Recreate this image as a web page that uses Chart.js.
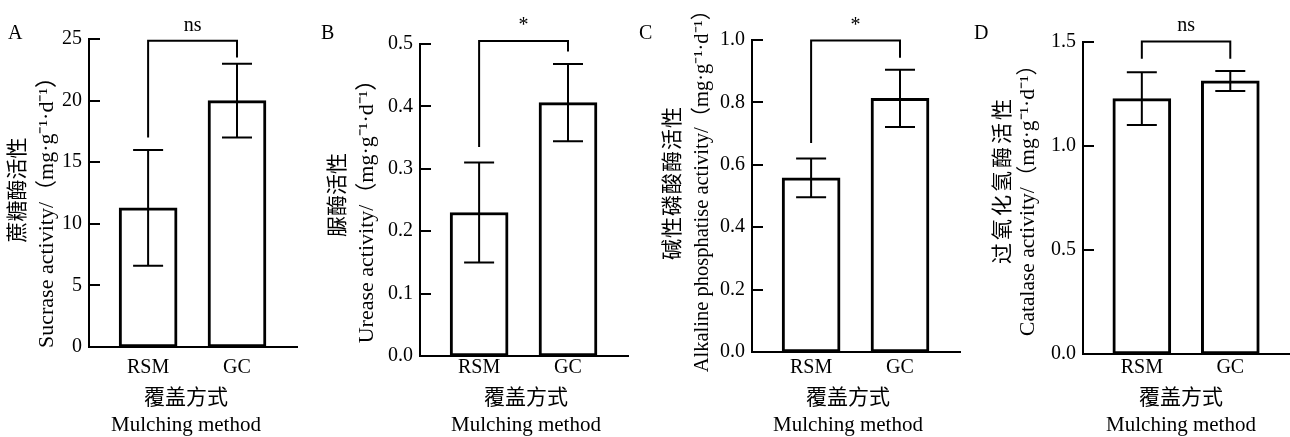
<!DOCTYPE html>
<html><head><meta charset="utf-8">
<script src="https://cdn.jsdelivr.net/npm/chart.js@4.4.1/dist/chart.umd.min.js"></script>
<style>
html,body{margin:0;padding:0;background:#fff;overflow:hidden;width:1290px;height:437px;}
canvas{position:absolute;left:0;top:0;}
</style></head><body>
<canvas id="c0" width="1290" height="437"></canvas>
<canvas id="c1" width="1290" height="437"></canvas>
<canvas id="c2" width="1290" height="437"></canvas>
<canvas id="c3" width="1290" height="437"></canvas>
<script>
// ---- data ----
const categories = ["RSM", "GC"];
const sucraseMean = [11.3, 20.0];
const sucraseErr = [4.7, 3.0];
const ureaseMean = [0.23, 0.406];
const ureaseErr = [0.08, 0.062];
const phosphataseMean = [0.558, 0.813];
const phosphataseErr = [0.062, 0.092];
const catalaseMean = [1.228, 1.313];
const catalaseErr = [0.127, 0.048];
const yTicksA = ["0", "5", "10", "15", "20", "25"];
const yTicksB = ["0.0", "0.1", "0.2", "0.3", "0.4", "0.5"];
const yTicksC = ["0.0", "0.2", "0.4", "0.6", "0.8", "1.0"];
const yTicksD = ["0.0", "0.5", "1.0", "1.5"];
const yMax = [25, 0.5, 1.0, 1.5];
const yStep = [5, 0.1, 0.2, 0.5];
const sigLabels = ["ns", "*", "*", "ns"];
const bracketTop = [24.85, 0.505, 0.998, 1.503];
const bracketLegEnd = [[17.0, 23.5], [0.335, 0.488], [0.670, 0.943], [1.42, 1.42]];
const panelLetters = ["A", "B", "C", "D"];
const yTitleCN = ["蔗糖酶活性", "脲酶活性", "碱性磷酸酶活性", "过氧化氢酶活性"];
const yTitleEN = [
  "Sucrase activity/（mg·g⁻¹·d⁻¹）",
  "Urease activity/（mg·g⁻¹·d⁻¹）",
  "Alkaline phosphatise activity/（mg·g⁻¹·d⁻¹）",
  "Catalase activity/（mg·g⁻¹·d⁻¹）"
];
const xTitleCN = "覆盖方式";
const xTitleEN = "Mulching method";

// ---- layout (pixel positions, not data) ----
const W = 1290, H = 437;
const FONT = "'Liberation Serif','Times New Roman','Noto Sans CJK SC',serif";
const L = [
  {axisX: 89,   top: 39, bottom: 347, letterX: 8,   t1x: 18,   t1y: 190, t2x: 47,   t2y: 207, t2s: 22,   xtx: 186,  ls: 0},
  {axisX: 420,  top: 44, bottom: 356, letterX: 321, t1x: 338,  t1y: 195, t2x: 367,  t2y: 206, t2s: 22,   xtx: 526,  ls: 0},
  {axisX: 752,  top: 40, bottom: 352, letterX: 639, t1x: 673,  t1y: 183, t2x: 703,  t2y: 186, t2s: 20.5, xtx: 848,  ls: 1},
  {axisX: 1083, top: 42, bottom: 354, letterX: 974, t1x: 1003, t1y: 180, t2x: 1028, t2y: 195, t2s: 21.5, xtx: 1181, ls: 3}
];

Chart.defaults.font.family = FONT;
Chart.defaults.color = '#000';

function makePanel(i, means, errs, tickLabels) {
  const lay = L[i];
  const right = Math.min(W, lay.axisX + 208);
  const annot = {
    id: 'annot' + i,
    afterDraw(chart) {
      const ctx = chart.ctx;
      const xs = chart.scales.x, ys = chart.scales.y;
      ctx.save();
      ctx.strokeStyle = '#000';
      ctx.fillStyle = '#000';
      ctx.lineWidth = 2;
      ctx.lineCap = 'butt';
      // inward y ticks
      ys.ticks.forEach(t => {
        const py = Math.round(ys.getPixelForValue(t.value));
        ctx.beginPath();
        ctx.moveTo(lay.axisX, py);
        ctx.lineTo(lay.axisX + 11, py);
        ctx.stroke();
      });
      // error bars
      means.forEach((m, k) => {
        const cx = xs.getPixelForValue(k + 1);
        const yt = ys.getPixelForValue(m + errs[k]);
        const yb = ys.getPixelForValue(m - errs[k]);
        ctx.beginPath();
        ctx.moveTo(cx, yt); ctx.lineTo(cx, yb);
        ctx.moveTo(cx - 15, yt); ctx.lineTo(cx + 15, yt);
        ctx.moveTo(cx - 15, yb); ctx.lineTo(cx + 15, yb);
        ctx.stroke();
      });
      // significance bracket
      const lx = xs.getPixelForValue(1), rx = xs.getPixelForValue(2);
      const ty = ys.getPixelForValue(bracketTop[i]);
      ctx.beginPath();
      ctx.moveTo(lx, ys.getPixelForValue(bracketLegEnd[i][0]));
      ctx.lineTo(lx, ty);
      ctx.lineTo(rx, ty);
      ctx.lineTo(rx, ys.getPixelForValue(bracketLegEnd[i][1]));
      ctx.stroke();
      ctx.font = "20px " + FONT;
      ctx.textAlign = 'center';
      ctx.textBaseline = 'alphabetic';
      ctx.fillText(sigLabels[i], (lx + rx) / 2, ty - 10);
      // panel letter
      ctx.font = "20px " + FONT;
      ctx.textAlign = 'left';
      ctx.fillText(panelLetters[i], lay.letterX, 39);
      // x title
      ctx.textAlign = 'center';
      ctx.textBaseline = 'middle';
      ctx.font = "21px " + FONT;
      ctx.fillText(xTitleCN, lay.xtx, 398);
      ctx.fillText(xTitleEN, lay.xtx, 425);
      // y title (rotated)
      ctx.save();
      ctx.translate(lay.t1x, lay.t1y);
      ctx.rotate(-Math.PI / 2);
      ctx.letterSpacing = lay.ls + 'px';
      ctx.fillText(yTitleCN[i], 0, 0);
      ctx.restore();
      ctx.save();
      ctx.translate(lay.t2x, lay.t2y);
      ctx.rotate(-Math.PI / 2);
      ctx.font = lay.t2s + "px " + FONT;
      ctx.fillText(yTitleEN[i], 0, 0);
      ctx.restore();
      ctx.restore();
    }
  };
  return new Chart(document.getElementById('c' + i), {
    type: 'bar',
    data: {
      datasets: [{
        data: categories.map((c, k) => ({x: k + 1, y: means[k]})),
        backgroundColor: '#fff',
        borderColor: '#000',
        borderWidth: 3,
        borderSkipped: false,
        barThickness: 58
      }]
    },
    options: {
      responsive: false,
      animation: false,
      events: [],
      layout: {padding: {left: 0, top: lay.top, right: W - right, bottom: 0}},
      plugins: {legend: {display: false}, tooltip: {enabled: false}},
      scales: {
        x: {
          type: 'linear', min: 0.335, max: 2.675, offset: false, bounds: 'ticks',
          grid: {display: false, drawTicks: false, offset: false},
          border: {display: true, color: '#000', width: 2},
          afterBuildTicks: s => { s.ticks = categories.map((c, k) => ({value: k + 1})); },
          ticks: {
            callback: v => categories[Math.round(v) - 1],
            padding: 368 - lay.bottom - 12,
            color: '#000', font: {size: 20}, maxRotation: 0, autoSkip: false
          },
          afterFit: s => { s.height = H - lay.bottom; }
        },
        y: {
          min: 0, max: yMax[i],
          grid: {display: false, drawTicks: false},
          border: {display: true, color: '#000', width: 2},
          afterBuildTicks: s => { s.ticks = tickLabels.map((t, k) => ({value: k * yStep[i]})); },
          ticks: {
            callback: (v, idx) => tickLabels[idx],
            padding: 7, color: '#000', font: {size: 20}, autoSkip: false
          },
          afterFit: s => { s.width = lay.axisX; }
        }
      }
    },
    plugins: [annot]
  });
}

makePanel(0, sucraseMean, sucraseErr, yTicksA);
makePanel(1, ureaseMean, ureaseErr, yTicksB);
makePanel(2, phosphataseMean, phosphataseErr, yTicksC);
makePanel(3, catalaseMean, catalaseErr, yTicksD);
</script>
</body></html>
